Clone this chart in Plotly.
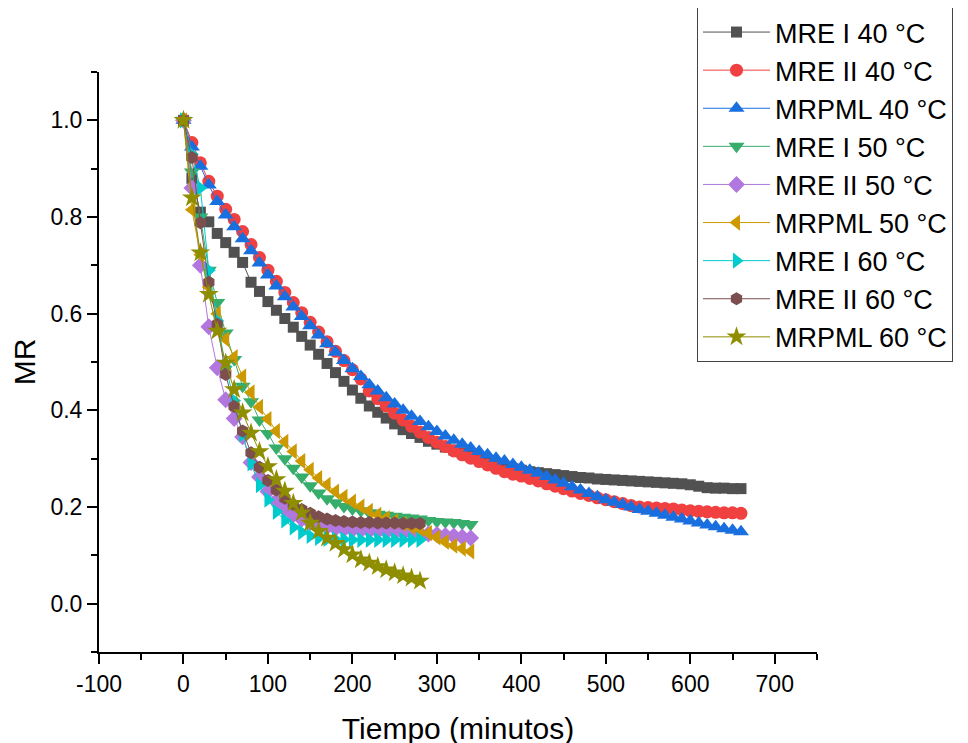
import plotly.graph_objects as go

# ---- data ----
t40 = [0, 10, 20, 30, 40, 50, 60, 70, 80, 90, 100, 110, 120, 130, 140, 150, 160, 170, 180, 190,
       200, 210, 220, 230, 240, 250, 260, 270, 280, 290, 300, 310, 320, 330, 340, 350, 360, 370,
       380, 390, 400, 410, 420, 430, 440, 450, 460, 470, 480, 490, 500, 510, 520, 530, 540, 550,
       560, 570, 580, 590, 600, 610, 620, 630, 640, 650, 660]
t50 = [0, 10, 20, 30, 40, 50, 60, 70, 80, 90, 100, 110, 120, 130, 140, 150, 160, 170, 180, 190,
       200, 210, 220, 230, 240, 250, 260, 270, 280, 290, 300, 310, 320, 330, 340]
t60 = [0, 10, 20, 30, 40, 50, 60, 70, 80, 90, 100, 110, 120, 130, 140, 150, 160, 170, 180, 190,
       200, 210, 220, 230, 240, 250, 260, 270, 280]

mre1_40 = [1.0, 0.88, 0.81, 0.79, 0.766, 0.747, 0.727, 0.706, 0.665, 0.646, 0.625, 0.607, 0.59,
           0.572, 0.553, 0.535, 0.516, 0.497, 0.478, 0.46, 0.442, 0.425, 0.409, 0.396, 0.384,
           0.372, 0.36, 0.352, 0.344, 0.336, 0.330, 0.324, 0.318, 0.312, 0.306, 0.300, 0.294,
           0.288, 0.283, 0.279, 0.276, 0.273, 0.271, 0.269, 0.267, 0.265, 0.263, 0.261, 0.260,
           0.258, 0.257, 0.256, 0.255, 0.254, 0.253, 0.252, 0.251, 0.250, 0.249, 0.248, 0.246,
           0.243, 0.240, 0.239, 0.239, 0.238, 0.238]
mre2_40 = [1.0, 0.954, 0.912, 0.874, 0.843, 0.816, 0.795, 0.77, 0.743, 0.716, 0.69, 0.667, 0.644,
           0.623, 0.602, 0.582, 0.562, 0.542, 0.522, 0.503, 0.484, 0.465, 0.44, 0.424, 0.409,
           0.394, 0.38, 0.367, 0.355, 0.344, 0.334, 0.325, 0.316, 0.308, 0.301, 0.294, 0.287,
           0.28, 0.273, 0.268, 0.264, 0.259, 0.254, 0.248, 0.243, 0.238, 0.233, 0.228, 0.224,
           0.219, 0.215, 0.211, 0.207, 0.203, 0.200, 0.199, 0.198, 0.197, 0.196, 0.194, 0.192,
           0.191, 0.190, 0.189, 0.188, 0.188, 0.187]
mrpml_40 = [1.0, 0.945, 0.905, 0.866, 0.832, 0.804, 0.78, 0.755, 0.73, 0.705, 0.68, 0.657, 0.635,
            0.614, 0.594, 0.575, 0.556, 0.538, 0.52, 0.503, 0.486, 0.47, 0.453, 0.44, 0.426,
            0.413, 0.4, 0.388, 0.377, 0.366, 0.356, 0.347, 0.338, 0.33, 0.322, 0.315, 0.308,
            0.301, 0.295, 0.288, 0.282, 0.276, 0.27, 0.263, 0.256, 0.249, 0.242, 0.235, 0.228,
            0.221, 0.215, 0.21, 0.205, 0.2, 0.195, 0.191, 0.187, 0.183, 0.179, 0.175, 0.171,
            0.167, 0.163, 0.159, 0.155, 0.152, 0.149]
mre1_50 = [1.0, 0.893, 0.80, 0.69, 0.623, 0.56, 0.505, 0.45, 0.418, 0.38, 0.352, 0.322, 0.30,
           0.28, 0.262, 0.244, 0.229, 0.217, 0.209, 0.201, 0.196, 0.192, 0.188, 0.185, 0.183,
           0.181, 0.179, 0.177, 0.175, 0.172, 0.170, 0.169, 0.168, 0.166, 0.164]
mre2_50 = [1.0, 0.86, 0.70, 0.573, 0.488, 0.422, 0.383, 0.345, 0.292, 0.262, 0.232, 0.212, 0.196,
           0.184, 0.175, 0.168, 0.163, 0.159, 0.156, 0.154, 0.153, 0.152, 0.151, 0.150, 0.149,
           0.148, 0.147, 0.146, 0.145, 0.144, 0.143, 0.141, 0.140, 0.138, 0.136]
mrpml_50 = [1.0, 0.815, 0.722, 0.655, 0.60, 0.547, 0.51, 0.47, 0.437, 0.407, 0.382, 0.357, 0.335,
            0.315, 0.295, 0.277, 0.26, 0.246, 0.232, 0.221, 0.211, 0.201, 0.192, 0.184, 0.177,
            0.171, 0.165, 0.159, 0.153, 0.146, 0.137, 0.128, 0.12, 0.114, 0.108]
mre1_60 = [1.0, 0.93, 0.86, 0.69, 0.585, 0.49, 0.42, 0.35, 0.29, 0.245, 0.215, 0.19, 0.172, 0.158,
           0.148, 0.14, 0.136, 0.134, 0.133, 0.133, 0.132, 0.132, 0.132, 0.132, 0.132, 0.132,
           0.132, 0.132, 0.132]
mre2_60 = [1.0, 0.923, 0.788, 0.665, 0.578, 0.474, 0.408, 0.357, 0.312, 0.282, 0.255, 0.235,
           0.218, 0.205, 0.195, 0.187, 0.18, 0.175, 0.172, 0.17, 0.169, 0.168, 0.168, 0.167,
           0.167, 0.167, 0.166, 0.166, 0.166]
mrpml_60 = [1.0, 0.84, 0.726, 0.64, 0.564, 0.498, 0.443, 0.395, 0.353, 0.315, 0.284, 0.257, 0.233,
            0.208, 0.188, 0.167, 0.15, 0.136, 0.125, 0.112, 0.101, 0.091, 0.084, 0.077, 0.07,
            0.064, 0.058, 0.053, 0.047]

x_tick_vals = [-100, 0, 100, 200, 300, 400, 500, 600, 700]
x_tick_text = ["-100", "0", "100", "200", "300", "400", "500", "600", "700"]

names = ["MRE I 40 °C", "MRE II 40 °C", "MRPML 40 °C", "MRE I 50 °C", "MRE II 50 °C",
         "MRPML 50 °C", "MRE I 60 °C", "MRE II 60 °C", "MRPML 60 °C"]
xs = [t40, t40, t40, t50, t50, t50, t60, t60, t60]
ys = [mre1_40, mre2_40, mrpml_40, mre1_50, mre2_50, mrpml_50, mre1_60, mre2_60, mrpml_60]
colors = ["#515151", "#F14040", "#1A6FDF", "#37AD6B", "#B177DE", "#CC9900", "#00CBCC",
          "#7D4E4E", "#8E8E00"]
symbols = ["square", "circle", "triangle-up", "triangle-down", "diamond", "triangle-left",
           "triangle-right", "hexagon", "star"]
sizes = [11, 13, 14, 14, 13, 14, 14, 13, 15]

FONT = "Arial, Liberation Sans, sans-serif"

fig = go.Figure()
for i in range(9):
    fig.add_trace(go.Scatter(
        x=xs[i], y=ys[i], name=names[i], mode="lines+markers",
        line=dict(color=colors[i], width=1),
        marker=dict(symbol=symbols[i], size=sizes[i], color=colors[i],
                    line=dict(width=0)),
        legendgroup=names[i],
    ))

axis_common = dict(
    showline=True, linecolor="black", linewidth=2,
    ticks="outside", ticklen=10, tickwidth=2, tickcolor="black",
    showgrid=False, zeroline=False, mirror=False,
    tickfont=dict(family=FONT, size=23, color="black"),
)

# the page body adds an 8px offset; plot area (page) x 99..817, y 72..652
L, T, R, B = 91, 64, 968 - 809, 743 - 644
fig.update_layout(
    width=968, height=743,
    margin=dict(l=L, r=R, t=T, b=B, autoexpand=False),
    paper_bgcolor="white", plot_bgcolor="white",
    font=dict(family=FONT, color="black"),
    xaxis=dict(range=[-100, 750], tickmode="array", tickvals=x_tick_vals, ticktext=x_tick_text,
               minor=dict(ticks="outside", ticklen=6, tickwidth=2, tickcolor="black", dtick=50),
               title=dict(text="Tiempo (minutos)", font=dict(family=FONT, size=30), standoff=22),
               **axis_common),
    yaxis=dict(range=[-0.1, 1.1], tick0=0, dtick=0.2, tickformat=".1f",
               minor=dict(ticks="outside", ticklen=6, tickwidth=2, tickcolor="black", dtick=0.1),
               title=dict(text="MR", font=dict(family=FONT, size=30), standoff=12),
               **axis_common),
    legend=dict(x=(689 - L) / 718, xanchor="left", y=(644 + 1) / 580, yanchor="top",
                bgcolor="white", bordercolor="#444444", borderwidth=1,
                font=dict(family=FONT, size=27, color="black"),
                tracegroupgap=0, itemwidth=67),
    showlegend=True,
)

fig.write_html("out.html")
